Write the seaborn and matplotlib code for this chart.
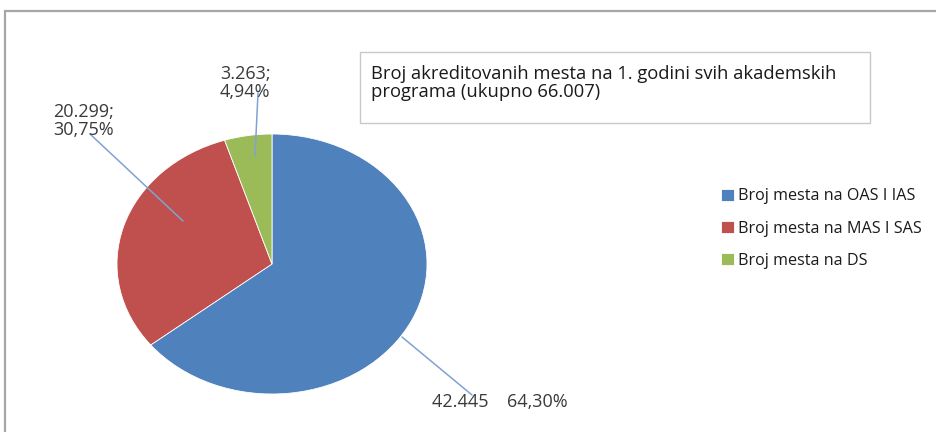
import matplotlib
matplotlib.use('agg')
import matplotlib.pyplot as plt
import seaborn as sns
import numpy as np
from matplotlib.patches import Rectangle

# Podaci
labels = ['Broj mesta na OAS I IAS', 'Broj mesta na MAS I SAS', 'Broj mesta na DS']
values = [42445, 20299, 3263]
value_text = ['42.445', '20.299', '3.263']
pct_text = ['64,30%', '30,75%', '4,94%']
colors = ['#4F81BD', '#C0504D', '#9BBB59']
title = 'Broj akreditovanih mesta na 1. godini svih akademskih\nprograma (ukupno 66.007)'

sns.set_theme(style='white')
plt.rcParams['font.family'] = ['Open Sans', 'DejaVu Sans']

W, H = 936, 432
fig = plt.figure(figsize=(W / 100, H / 100), dpi=100)

def px(x, y):
    # piksel od gornjeg levog ugla -> frakcija figure
    return x / W, 1 - y / H

# okvir grafikona
fig.patches.append(Rectangle(px(5, 11 + 500), 1.5, 500 / H + 0.0,
                             transform=fig.transFigure, fill=False,
                             edgecolor='#A6A6A6', lw=1.6))

# pita (eliptična, kao u originalu)
cx, cy, rx, ry = 272, 264, 155, 130
ax = fig.add_axes([(cx - rx) / W, (H - cy - ry) / H, 2 * rx / W, 2 * ry / H])
wedges, _ = ax.pie(values, colors=colors, startangle=90, counterclock=False,
                   wedgeprops=dict(edgecolor='white', linewidth=0.6))
ax.set_aspect('auto')
ax.set_xlim(-1, 1)
ax.set_ylim(-1, 1)
ax.axis('off')

# oznake sa linijama (pozicija = bazna linija poslednjeg reda teksta)
label_pos = [(432, 407), (53, 135), (220, 97)]
line_start = [(402, 337), (183, 221), (255, 156)]
line_end = [(472, 395), (90, 134), (258, 93)]
texts = [f'{value_text[0]}    {pct_text[0]}',
         f'{value_text[1]};\n{pct_text[1]}',
         f'{value_text[2]};\n{pct_text[2]}']
for i in range(3):
    fig.add_artist(plt.Line2D([line_start[i][0] / W, line_end[i][0] / W],
                              [1 - line_start[i][1] / H, 1 - line_end[i][1] / H],
                              transform=fig.transFigure, color='#7FA3D3', lw=1.1))
    fig.text(*px(*label_pos[i]), texts[i], ha='left', va='baseline',
             fontsize=13, color='#3a3a3a', linespacing=0.98)

# naslov u okviru
fig.patches.append(Rectangle(px(360, 123), 510 / W, 71 / H,
                             transform=fig.transFigure, fill=False,
                             edgecolor='#C8C8C8', lw=1.0))
fig.text(*px(371, 97), title, ha='left', va='baseline', fontsize=13.2,
         color='#1a1a1a', linespacing=0.98)

# legenda
leg = fig.legend(wedges, labels, loc='upper left', bbox_to_anchor=px(715, 182),
                 frameon=False, fontsize=11.6, handlelength=0.75, handleheight=0.75,
                 handletextpad=0.3, labelspacing=1.0, borderaxespad=0)
for t in leg.get_texts():
    t.set_color('#1a1a1a')

plt.savefig('out.png', dpi=100)
plt.close()
